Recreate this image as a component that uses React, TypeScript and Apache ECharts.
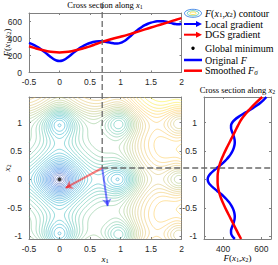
import React, { useEffect, useRef } from "react";
import * as echarts from "echarts";

// ---------------- data ----------------
const x1Ticks = [-0.5, 0, 0.5, 1, 1.5, 2];
const x2Ticks = [-1, -0.5, 0, 0.5, 1];
const fTicksTop = [0, 200, 400, 600];
const fTicksRight = [400, 600];

const x1Range = [-0.5, 2];
const x2Range = [-1.05, 1.45];
const fRangeTop = [0, 700];
const fRangeRight = [300, 650];

const currentPoint = [0.7, 0.2];
const globalMinimum = [0, 0];
const localGradientEnd = [0.79, -0.47];
const dgsGradientEnd = [0.1, -0.15];

// cross section along x1 (x2 = 0.2)
const x1Samples = [-0.5, -0.45, -0.4, -0.35, -0.3, -0.25, -0.2, -0.15, -0.1, -0.05, 0, 0.05, 0.1, 0.15, 0.2, 0.25, 0.3, 0.35, 0.4, 0.45, 0.5, 0.55, 0.6, 0.65, 0.7, 0.75, 0.8, 0.85, 0.9, 0.95, 1, 1.05, 1.1, 1.15, 1.2, 1.25, 1.3, 1.35, 1.4, 1.45, 1.5, 1.55, 1.6, 1.65, 1.7, 1.75, 1.8, 1.85, 1.9, 1.95, 2];
const originalAlongX1 = [347.7, 333.8, 316.5, 295.7, 271.2, 243.6, 214.0, 184.7, 159.2, 141.5, 135.2, 141.5, 159.2, 184.7, 214.0, 243.6, 271.2, 295.7, 316.5, 333.8, 347.7, 358.2, 365.1, 368.2, 367.5, 363.0, 355.8, 347.6, 341.4, 340.6, 348.0, 364.6, 389.4, 419.6, 451.7, 483.0, 511.3, 535.9, 556.5, 573.2, 586.4, 595.9, 601.8, 603.8, 601.8, 596.1, 587.5, 578.0, 570.5, 568.3, 574.3];
const x1SamplesCoarse = [-0.5, -0.4, -0.3, -0.2, -0.1, 0, 0.1, 0.2, 0.3, 0.4, 0.5, 0.6, 0.7, 0.8, 0.9, 1, 1.1, 1.2, 1.3, 1.4, 1.5, 1.6, 1.7, 1.8, 1.9, 2];
const smoothedAlongX1 = [308, 287, 267, 251, 240, 236, 240, 251, 267, 287, 308, 335, 360, 382, 402, 421, 440, 462, 484, 507, 529, 551, 573, 596, 618, 640];

// cross section along x2 (x1 = 0.7)
const x2Samples = [-1.05, -1, -0.95, -0.9, -0.85, -0.8, -0.75, -0.7, -0.65, -0.6, -0.55, -0.5, -0.45, -0.4, -0.35, -0.3, -0.25, -0.2, -0.15, -0.1, -0.05, 0, 0.05, 0.1, 0.15, 0.2, 0.25, 0.3, 0.35, 0.4, 0.45, 0.5, 0.55, 0.6, 0.65, 0.7, 0.75, 0.8, 0.85, 0.9, 0.95, 1, 1.05, 1.1, 1.15, 1.2, 1.25, 1.3, 1.35, 1.4, 1.45];
const originalAlongX2 = [460.9, 447.7, 441.4, 441.3, 445.3, 451.0, 456.2, 459.7, 460.7, 459.1, 455.2, 449.0, 440.6, 430.2, 417.5, 402.6, 385.7, 367.5, 349.4, 333.8, 322.9, 319.1, 322.9, 333.8, 349.4, 367.5, 385.7, 402.6, 417.5, 430.2, 440.6, 449.0, 455.2, 459.1, 460.7, 459.7, 456.2, 451.0, 445.3, 441.3, 441.4, 447.7, 460.9, 480.2, 503.6, 528.6, 552.9, 575.3, 595.0, 611.8, 625.9];
const x2SamplesCoarse = [-1.05, -0.95, -0.85, -0.75, -0.65, -0.55, -0.45, -0.35, -0.25, -0.15, -0.05, 0.05, 0.15, 0.25, 0.35, 0.45, 0.55, 0.65, 0.75, 0.85, 0.95, 1.05, 1.15, 1.25, 1.35, 1.45];
const smoothedAlongX2 = [494, 478, 463, 448, 433, 418, 404, 391, 381, 374, 371, 371, 374, 381, 391, 404, 418, 433, 448, 463, 478, 494, 517, 543, 572, 604];

// contour surface: the objective F(x1,x2) of the figure (Ackley test function, x100)
const contourLevelCount = 40;
const contourStep = 0.0125;
function objectiveF(x1: number, x2: number): number {
  return 100 * (20 + Math.E - 20 * Math.exp(-0.2 * Math.sqrt(0.5 * (x1 * x1 + x2 * x2))) -
    Math.exp(0.5 * (Math.cos(2 * Math.PI * x1) + Math.cos(2 * Math.PI * x2))));
}

// ---------------- styling ----------------
const SERIF = '"Liberation Serif", "Times New Roman", serif';
const SANS = '"Liberation Sans", Arial, sans-serif';
const AXIS_COLOR = "#808080";
const LABEL_COLOR = "#262626";
const BLUE = "#0000ff";
const RED = "#ff0000";

const PARULA = [
  [0, 0.2081, 0.1663, 0.5292],
  [0.127, 0.0117, 0.3875, 0.882],
  [0.254, 0.0793, 0.52, 0.8312],
  [0.381, 0.0228, 0.6535, 0.7768],
  [0.508, 0.2178, 0.725, 0.6193],
  [0.635, 0.5709, 0.7485, 0.4494],
  [0.762, 0.8507, 0.7299, 0.336],
  [0.841, 0.9938, 0.7455, 0.2403],
  [0.889, 0.988, 0.8066, 0.1794],
  [1, 0.9763, 0.9831, 0.0538],
];
function parula(t: number): string {
  const u = Math.max(0, Math.min(1, t));
  let k = 0;
  while (k < PARULA.length - 2 && u > PARULA[k + 1][0]) k++;
  const a = PARULA[k], b = PARULA[k + 1];
  const f = (u - a[0]) / (b[0] - a[0]);
  const c = [1, 2, 3].map((i) => Math.round(255 * (a[i] + f * (b[i] - a[i]))));
  return `rgb(${c[0]},${c[1]},${c[2]})`;
}

function marchingSquares(xs: number[], ys: number[], z: number[][], level: number): number[][][] {
  const nx = xs.length, ny = ys.length;
  const pts = new Map<string, number[]>();
  const segs: string[][] = [];
  const hPt = (i: number, j: number) => {
    const k = `h${i}_${j}`;
    if (!pts.has(k)) {
      const a = z[j][i], b = z[j][i + 1];
      const t = (level - a) / (b - a);
      pts.set(k, [xs[i] + t * (xs[i + 1] - xs[i]), ys[j]]);
    }
    return k;
  };
  const vPt = (i: number, j: number) => {
    const k = `v${i}_${j}`;
    if (!pts.has(k)) {
      const a = z[j][i], b = z[j + 1][i];
      const t = (level - a) / (b - a);
      pts.set(k, [xs[i], ys[j] + t * (ys[j + 1] - ys[j])]);
    }
    return k;
  };
  for (let j = 0; j < ny - 1; j++) {
    for (let i = 0; i < nx - 1; i++) {
      const a = z[j][i], b = z[j][i + 1], c = z[j + 1][i + 1], d = z[j + 1][i];
      const idx = (a > level ? 1 : 0) | (b > level ? 2 : 0) | (c > level ? 4 : 0) | (d > level ? 8 : 0);
      if (idx === 0 || idx === 15) continue;
      const B = () => hPt(i, j), R = () => vPt(i + 1, j), T = () => hPt(i, j + 1), L = () => vPt(i, j);
      const center = (a + b + c + d) / 4;
      switch (idx) {
        case 1: case 14: segs.push([L(), B()]); break;
        case 2: case 13: segs.push([B(), R()]); break;
        case 3: case 12: segs.push([L(), R()]); break;
        case 4: case 11: segs.push([R(), T()]); break;
        case 6: case 9: segs.push([B(), T()]); break;
        case 7: case 8: segs.push([L(), T()]); break;
        case 5:
          if (center > level) { segs.push([B(), R()]); segs.push([L(), T()]); }
          else { segs.push([L(), B()]); segs.push([R(), T()]); }
          break;
        case 10:
          if (center > level) { segs.push([L(), B()]); segs.push([R(), T()]); }
          else { segs.push([B(), R()]); segs.push([L(), T()]); }
          break;
      }
    }
  }
  const adj = new Map<string, number[]>();
  segs.forEach((s, n) => s.forEach((k) => { if (!adj.has(k)) adj.set(k, []); adj.get(k)!.push(n); }));
  const used = new Uint8Array(segs.length);
  const chains: number[][][] = [];
  for (let s0 = 0; s0 < segs.length; s0++) {
    if (used[s0]) continue;
    used[s0] = 1;
    const fwd: string[] = [segs[s0][1]];
    let cur = segs[s0][1];
    for (;;) {
      const nb = adj.get(cur)!.find((n) => !used[n]);
      if (nb === undefined) break;
      used[nb] = 1;
      cur = segs[nb][0] === cur ? segs[nb][1] : segs[nb][0];
      fwd.push(cur);
    }
    const back: string[] = [];
    cur = segs[s0][0];
    for (;;) {
      const nb = adj.get(cur)!.find((n) => !used[n]);
      if (nb === undefined) break;
      used[nb] = 1;
      cur = segs[nb][0] === cur ? segs[nb][1] : segs[nb][0];
      back.push(cur);
    }
    const keys = back.reverse().concat([segs[s0][0]], fwd);
    chains.push(keys.map((k) => pts.get(k)!));
  }
  return chains;
}

function buildContourItems() {
  const nx = Math.round((x1Range[1] - x1Range[0]) / contourStep) + 1;
  const ny = Math.round((x2Range[1] - x2Range[0]) / contourStep) + 1;
  const xs: number[] = [], ys: number[] = [];
  for (let i = 0; i < nx; i++) xs.push(x1Range[0] + i * contourStep);
  for (let j = 0; j < ny; j++) ys.push(x2Range[0] + j * contourStep);
  const z: number[][] = [];
  let zmin = Infinity, zmax = -Infinity;
  for (let j = 0; j < ny; j++) {
    const row: number[] = [];
    for (let i = 0; i < nx; i++) {
      const v = objectiveF(xs[i], ys[j]);
      row.push(v);
      if (v < zmin) zmin = v;
      if (v > zmax) zmax = v;
    }
    z.push(row);
  }
  const items: any[] = [];
  for (let k = 1; k <= contourLevelCount; k++) {
    const level = zmin + (k * (zmax - zmin)) / (contourLevelCount + 1);
    const color = parula((level - zmin) / (zmax - zmin));
    for (const chain of marchingSquares(xs, ys, z, level)) {
      if (chain.length < 2) continue;
      items.push({ coords: chain, lineStyle: { color } });
    }
  }
  return items;
}

function axis(gridIndex: number, range: number[], ticks: number[], position: string, labels: boolean) {
  return {
    type: "value",
    gridIndex,
    min: range[0],
    max: range[1],
    position,
    axisLine: { show: true, onZero: false, lineStyle: { color: AXIS_COLOR, width: 1 } },
    axisTick: { show: true, inside: true, length: 2, customValues: ticks, lineStyle: { color: AXIS_COLOR, width: 1 } },
    axisLabel: {
      show: labels,
      customValues: ticks,
      fontFamily: SANS,
      fontSize: 8.5,
      color: LABEL_COLOR,
      margin: position === "left" ? 7 : 5,
    },
    splitLine: { show: false },
  };
}

function rich(size: number) {
  const lh = Math.round(size * 1.05);
  return {
    n: { fontFamily: SERIF, fontSize: size, color: "#000", lineHeight: lh },
    it: { fontFamily: SERIF, fontSize: size, fontStyle: "italic", color: "#000", lineHeight: lh },
    sub: { fontFamily: SERIF, fontSize: size * 0.7, color: "#000", lineHeight: lh, verticalAlign: "bottom" },
    subit: { fontFamily: SERIF, fontSize: size * 0.72, fontStyle: "italic", color: "#000", lineHeight: lh, verticalAlign: "bottom" },
  };
}

function mathText(x: number, y: number, text: string, size: number, align: string, rotation = 0) {
  return {
    type: "text",
    x,
    y,
    rotation,
    z: 50,
    silent: true,
    style: { text, rich: rich(size), align, verticalAlign: "middle", fill: "#000" },
  };
}

const F12 = "{it|F}{n|(}{it|x}{sub|1}{n|,}{it|x}{sub|2}{n|)}";

export default function App() {
  const ref = useRef<HTMLDivElement>(null);
  useEffect(() => {
    document.body.style.margin = "0";
    const chart = echarts.init(ref.current!, null, { renderer: "svg" });
    const grids = [
      { left: 29, top: 13, width: 152.5, height: 59.5 },
      { left: 29, top: 97, width: 152.5, height: 142 },
      { left: 204, top: 97, width: 67, height: 142 },
    ];
    const xAxis = [
      axis(0, x1Range, x1Ticks, "bottom", true),
      axis(0, x1Range, x1Ticks, "top", false),
      axis(1, x1Range, x1Ticks, "bottom", true),
      axis(1, x1Range, x1Ticks, "top", false),
      axis(2, fRangeRight, fTicksRight, "bottom", true),
      axis(2, fRangeRight, fTicksRight, "top", false),
    ];
    const yAxis = [
      axis(0, fRangeTop, fTicksTop, "left", true),
      axis(0, fRangeTop, fTicksTop, "right", false),
      axis(1, x2Range, x2Ticks, "left", true),
      axis(1, x2Range, x2Ticks, "right", false),
      axis(2, x2Range, x2Ticks, "left", true),
      axis(2, x2Range, x2Ticks, "right", false),
    ];
    const curve = (xa: number, data: number[][], color: string, z: number) => ({
      type: "line",
      xAxisIndex: xa,
      yAxisIndex: xa,
      data,
      showSymbol: false,
      smooth: 0.3,
      silent: true,
      z,
      lineStyle: { color, width: 2.5 },
      itemStyle: { color },
    });
    const option: any = {
      animation: false,
      grid: grids,
      xAxis,
      yAxis,
      series: [
        curve(0, x1Samples.map((x, i) => [x, originalAlongX1[i]]), BLUE, 3),
        curve(0, x1SamplesCoarse.map((x, i) => [x, smoothedAlongX1[i]]), RED, 4),
        {
          type: "lines",
          coordinateSystem: "cartesian2d",
          xAxisIndex: 2,
          yAxisIndex: 2,
          polyline: true,
          silent: true,
          z: 1,
          lineStyle: { width: 0.55, opacity: 0.9 },
          data: buildContourItems(),
        },
        {
          type: "lines",
          coordinateSystem: "cartesian2d",
          xAxisIndex: 2,
          yAxisIndex: 2,
          silent: true,
          z: 5,
          symbol: ["none", "arrow"],
          symbolSize: 7,
          data: [
            { coords: [currentPoint, localGradientEnd], lineStyle: { color: BLUE, width: 2 } },
            { coords: [currentPoint, dgsGradientEnd], lineStyle: { color: RED, width: 2 } },
          ],
        },
        {
          type: "scatter",
          xAxisIndex: 2,
          yAxisIndex: 2,
          silent: true,
          z: 6,
          symbolSize: 4,
          itemStyle: { color: "#000" },
          data: [globalMinimum],
        },
        curve(4, x2Samples.map((y, i) => [originalAlongX2[i], y]), BLUE, 3),
        curve(4, x2SamplesCoarse.map((y, i) => [smoothedAlongX2[i], y]), RED, 4),
      ],
    };
    chart.setOption(option);

    const p = chart.convertToPixel({ xAxisIndex: 2, yAxisIndex: 2 }, currentPoint) as number[];
    const topY = (chart.convertToPixel({ xAxisIndex: 0, yAxisIndex: 0 }, [currentPoint[0], fRangeTop[1]]) as number[])[1] - 10;
    const rightX = (chart.convertToPixel({ xAxisIndex: 4, yAxisIndex: 4 }, [fRangeRight[1], currentPoint[1]]) as number[])[0];
    const dash = { stroke: "#6a6a6a", lineWidth: 1.3, lineDash: [6, 3] };

    const legX0 = 184, legX1 = 202, legText = 205;
    const legY = [13.3, 24, 34.7, 48.3, 60, 70.7];
    const arrowIcon = (y: number, color: string) => [
      { type: "line", z: 50, silent: true, shape: { x1: legX0, y1: y, x2: legX1 - 5, y2: y }, style: { stroke: color, lineWidth: 2 } },
      { type: "polygon", z: 50, silent: true, shape: { points: [[legX1, y], [legX1 - 6, y - 3], [legX1 - 6, y + 3]] }, style: { fill: color } },
    ];
    const cx = (legX0 + legX1) / 2;
    const graphic: any[] = [
      { type: "line", z: 40, silent: true, shape: { x1: p[0], y1: topY, x2: p[0], y2: p[1] }, style: dash },
      { type: "line", z: 40, silent: true, shape: { x1: p[0], y1: p[1], x2: rightX, y2: p[1] }, style: dash },
      // titles and axis labels
      mathText(105, 5, "{n|Cross section along }{it|x}{sub|1}", 8.5, "center"),
      mathText(237.5, 90, "{n|Cross section along }{it|x}{sub|2}", 8.5, "center"),
      mathText(7, 42.5, F12, 9, "center", Math.PI / 2),
      mathText(7, 168, "{it|x}{sub|2}", 9, "center", Math.PI / 2),
      mathText(105, 259, "{it|x}{sub|1}", 9, "center"),
      mathText(237.5, 258, F12, 9, "center"),
      // legend
      { type: "ellipse", z: 50, silent: true, shape: { cx, cy: legY[0], rx: 8.5, ry: 4 }, style: { fill: "none", stroke: parula(0.12), lineWidth: 0.7 } },
      { type: "ellipse", z: 50, silent: true, shape: { cx, cy: legY[0], rx: 5.8, ry: 2.6 }, style: { fill: "none", stroke: parula(0.5), lineWidth: 0.7 } },
      { type: "ellipse", z: 50, silent: true, shape: { cx, cy: legY[0], rx: 3.2, ry: 1.3 }, style: { fill: "none", stroke: parula(0.92), lineWidth: 0.7 } },
      ...arrowIcon(legY[1], BLUE),
      ...arrowIcon(legY[2], RED),
      { type: "circle", z: 50, silent: true, shape: { cx, cy: legY[3], r: 1.7 }, style: { fill: "#000" } },
      { type: "line", z: 50, silent: true, shape: { x1: legX0, y1: legY[4], x2: legX1, y2: legY[4] }, style: { stroke: BLUE, lineWidth: 2.5 } },
      { type: "line", z: 50, silent: true, shape: { x1: legX0, y1: legY[5], x2: legX1, y2: legY[5] }, style: { stroke: RED, lineWidth: 2.5 } },
      mathText(legText, legY[0], F12 + "{n| contour}", 10, "left"),
      mathText(legText, legY[1], "{n|Local gradient}", 10, "left"),
      mathText(legText, legY[2], "{n|DGS gradient}", 10, "left"),
      mathText(legText, legY[3], "{n|Global minimum}", 10, "left"),
      mathText(legText, legY[4], "{n|Original }{it|F}", 10, "left"),
      mathText(legText, legY[5], "{n|Smoothed }{it|F}{subit|σ}", 10, "left"),
    ];
    chart.setOption({ graphic });
    return () => chart.dispose();
  }, []);
  return <div ref={ref} style={{ width: 278, height: 265 }} />;
}
